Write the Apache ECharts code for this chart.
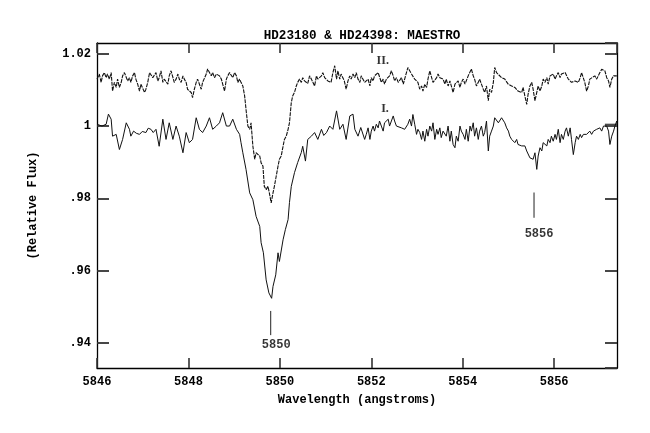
<!DOCTYPE html>
<html>
<head>
<meta charset="utf-8">
<script src="https://cdn.jsdelivr.net/npm/echarts@6/dist/echarts.min.js"></script>
<style>html,body{margin:0;padding:0;background:#fff}#c{width:650px;height:433px}</style>
</head>
<body>
<div id="c"></div>
<script>
// Spectrum I (solid): [wavelength, relative flux]
const spectrumI = [
[5846.00,1.0005],[5846.11,1.0000],[5846.20,1.0005],[5846.25,1.0033],[5846.31,1.0019],[5846.34,0.9972],[5846.42,0.9977],[5846.49,0.9935],[5846.56,0.9963],[5846.64,1.0009],[5846.71,0.9991],[5846.74,0.9972],[5846.80,0.9986],[5846.86,0.9980],[5846.93,0.9977],[5846.99,0.9985],
[5847.07,0.9982],[5847.12,0.9994],[5847.18,0.9991],[5847.23,0.9982],[5847.29,0.9991],[5847.36,0.9944],[5847.44,1.0019],[5847.51,0.9963],[5847.58,1.0009],[5847.66,0.9963],[5847.73,1.0000],[5847.80,0.9972],[5847.88,0.9926],[5847.95,0.9982],
[5848.02,0.9954],[5848.09,0.9963],[5848.17,1.0023],[5848.24,0.9991],[5848.31,0.9982],[5848.39,1.0000],[5848.46,1.0023],[5848.53,0.9991],[5848.61,1.0000],[5848.68,1.0009],[5848.75,1.0037],[5848.83,1.0000],[5848.90,1.0000],[5848.97,1.0019],
[5849.05,0.9991],[5849.12,0.9977],[5849.15,0.9954],[5849.19,0.9926],[5849.26,0.9880],[5849.34,0.9815],[5849.41,0.9796],[5849.48,0.9750],[5849.56,0.9722],[5849.59,0.9677],[5849.64,0.9649],[5849.70,0.9574],[5849.76,0.9538],[5849.82,0.9523],[5849.85,0.9556],[5849.91,0.9588],[5849.96,0.9649],[5849.99,0.9625],
[5850.03,0.9625],[5850.07,0.9685],[5850.12,0.9713],[5850.18,0.9741],[5850.21,0.9788],[5850.25,0.9833],[5850.32,0.9871],[5850.39,0.9899],[5850.47,0.9927],[5850.50,0.9944],[5850.56,0.9903],[5850.61,0.9963],[5850.69,0.9972],[5850.76,0.9982],[5850.83,0.9963],[5850.91,0.9991],[5850.96,0.9974],
[5851.02,0.9982],[5851.09,1.0000],[5851.16,0.9991],[5851.24,1.0042],[5851.31,0.9991],[5851.38,1.0005],[5851.45,0.9963],[5851.53,1.0028],[5851.60,1.0033],[5851.64,0.9991],[5851.71,0.9972],[5851.77,0.9996],
[5851.855,0.9963],[5851.89,0.9977],[5851.93,0.9995],[5851.97,0.9963],[5852.00,0.9986],[5852.04,1.0000],[5852.07,0.9986],[5852.11,1.0005],[5852.15,0.9995],[5852.18,1.0014],[5852.22,1.0000],[5852.26,0.9986],[5852.29,1.0009],[5852.33,1.0005],[5852.37,1.0019],[5852.40,1.0000],[5852.44,1.0014],[5852.48,1.0028],[5852.51,1.0014],[5852.55,1.0000],[5852.59,1.0005],[5852.66,0.9995],[5852.70,1.0000],[5852.73,0.9991],[5852.77,0.9995],[5852.80,1.0005],[5852.84,1.0019],[5852.88,1.0000],[5852.91,1.0032],[5852.95,1.0005],[5852.99,0.9977],
[5853.02,0.9991],[5853.06,0.9982],[5853.10,0.9963],[5853.13,0.9986],[5853.17,0.9958],[5853.21,0.9991],[5853.24,0.9972],[5853.28,1.0000],[5853.32,0.9986],[5853.35,1.0009],[5853.39,0.9963],[5853.43,0.9991],[5853.46,0.9977],[5853.50,0.9995],[5853.53,0.9968],[5853.57,0.9986],[5853.61,0.9991],[5853.64,0.9972],[5853.68,1.0000],[5853.72,0.9958],[5853.75,0.9986],[5853.79,0.9949],[5853.83,0.9940],[5853.86,0.9972],[5853.90,0.9958],[5853.94,1.0000],[5853.97,0.9986],
[5854.01,0.9977],[5854.05,0.9963],[5854.08,0.9991],[5854.12,0.9958],[5854.16,1.0000],[5854.19,0.9986],[5854.23,1.0009],[5854.26,0.9972],[5854.30,0.9995],[5854.34,0.9963],[5854.37,0.9986],[5854.41,1.0000],[5854.45,0.9972],[5854.48,0.9982],[5854.52,1.0014],[5854.56,0.9931],[5854.59,0.9972],[5854.63,0.9986],[5854.67,1.0000],[5854.70,1.0023],[5854.74,1.0028],[5854.78,1.0009],[5854.85,1.0023],[5854.92,1.0009],[5854.96,0.9995],
[5855.00,0.9986],[5855.03,0.9972],[5855.07,0.9963],[5855.10,0.9968],[5855.14,0.9954],[5855.18,0.9963],[5855.21,0.9949],[5855.25,0.9954],[5855.29,0.9945],[5855.32,0.9949],[5855.36,0.9945],[5855.40,0.9931],[5855.43,0.9926],[5855.47,0.9912],[5855.51,0.9917],[5855.54,0.9908],[5855.58,0.9926],[5855.62,0.9880],[5855.65,0.9917],[5855.69,0.9940],[5855.73,0.9931],[5855.76,0.9954],[5855.80,0.9958],[5855.84,0.9945],[5855.87,0.9963],[5855.91,0.9954],[5855.94,0.9972],[5855.98,0.9958],
[5856.02,0.9977],[5856.05,0.9963],[5856.09,0.9991],[5856.13,0.9954],[5856.16,0.9977],[5856.20,0.9963],[5856.24,0.9986],[5856.27,0.9995],[5856.31,0.9972],[5856.35,0.9995],[5856.38,0.9963],[5856.42,0.9921],[5856.46,0.9954],[5856.49,0.9972],[5856.53,0.9963],[5856.57,0.9977],[5856.60,0.9968],[5856.64,0.9977],[5856.67,0.9982],[5856.71,0.9977],[5856.75,0.9972],[5856.78,0.9986],[5856.82,0.9977],[5856.86,0.9986],[5856.89,0.9982],[5856.93,0.9991],[5856.97,0.9986],
[5857.00,0.9995],[5857.04,0.9986],[5857.08,1.0000],[5857.11,1.0005],[5857.15,1.0000],[5857.19,0.9986],[5857.22,0.9949],[5857.26,0.9972],[5857.30,0.9986],[5857.33,1.0000],[5857.37,1.0014],[5857.375,1.0005],[5857.11,1.0005]
];

// Spectrum II (dashed): [wavelength, relative flux]
const spectrumII = [
[5846.00,1.0130],[5846.05,1.0144],[5846.09,1.0121],[5846.12,1.0139],[5846.16,1.0148],[5846.20,1.0134],[5846.23,1.0144],[5846.27,1.0130],[5846.31,1.0148],[5846.34,1.0097],[5846.38,1.0121],[5846.42,1.0107],[5846.45,1.0130],[5846.49,1.0107],[5846.53,1.0121],[5846.56,1.0139],[5846.60,1.0148],[5846.64,1.0144],[5846.67,1.0125],[5846.71,1.0134],[5846.74,1.0121],[5846.78,1.0139],[5846.82,1.0148],[5846.85,1.0130],[5846.89,1.0116],[5846.93,1.0097],[5846.96,1.0116],
[5847.00,1.0111],[5847.04,1.0093],[5847.07,1.0102],[5847.11,1.0121],[5847.15,1.0148],[5847.18,1.0153],[5847.22,1.0134],[5847.26,1.0139],[5847.29,1.0148],[5847.33,1.0125],[5847.36,1.0134],[5847.40,1.0153],[5847.44,1.0121],[5847.47,1.0130],[5847.51,1.0134],[5847.55,1.0116],[5847.58,1.0139],[5847.62,1.0153],[5847.66,1.0148],[5847.69,1.0121],[5847.73,1.0130],[5847.77,1.0144],[5847.80,1.0130],[5847.84,1.0121],[5847.88,1.0139],[5847.91,1.0130],[5847.95,1.0121],[5847.98,1.0102],
[5848.02,1.0097],[5848.06,1.0093],[5848.09,1.0079],[5848.13,1.0102],[5848.17,1.0121],[5848.20,1.0130],[5848.24,1.0125],[5848.28,1.0102],[5848.31,1.0121],[5848.35,1.0116],[5848.39,1.0144],[5848.42,1.0158],[5848.46,1.0162],[5848.50,1.0139],[5848.53,1.0148],[5848.57,1.0134],[5848.61,1.0144],[5848.64,1.0139],[5848.68,1.0139],[5848.72,1.0130],[5848.75,1.0134],[5848.79,1.0097],[5848.83,1.0130],[5848.86,1.0139],[5848.90,1.0148],[5848.94,1.0153],[5848.97,1.0134],
[5849.01,1.0148],[5849.05,1.0139],[5849.08,1.0121],[5849.12,1.0130],[5849.15,1.0121],[5849.19,1.0111],[5849.23,1.0083],[5849.26,1.0046],[5849.30,1.0000],[5849.34,0.9991],[5849.37,1.0009],[5849.41,0.9944],[5849.45,0.9908],[5849.48,0.9926],[5849.52,0.9921],[5849.56,0.9917],[5849.59,0.9898],[5849.63,0.9889],[5849.66,0.9833],[5849.70,0.9824],[5849.74,0.9833],[5849.77,0.9815],[5849.81,0.9787],[5849.85,0.9815],[5849.88,0.9833],[5849.92,0.9861],[5849.96,0.9889],[5849.99,0.9908],
[5850.03,0.9917],[5850.07,0.9944],[5850.10,0.9963],[5850.14,0.9972],[5850.18,0.9991],[5850.21,1.0009],[5850.25,1.0065],[5850.28,1.0083],[5850.32,1.0093],[5850.36,1.0111],[5850.39,1.0121],[5850.43,1.0130],[5850.47,1.0121],[5850.50,1.0134],[5850.54,1.0125],[5850.58,1.0130],[5850.61,1.0118],[5850.65,1.0139],[5850.69,1.0130],[5850.72,1.0125],[5850.76,1.0111],[5850.80,1.0139],[5850.83,1.0130],[5850.87,1.0125],[5850.91,1.0139],[5850.94,1.0148],[5850.98,1.0134],
[5851.02,1.0139],[5851.05,1.0125],[5851.09,1.0130],[5851.12,1.0121],[5851.16,1.0148],[5851.20,1.0167],[5851.24,1.0130],[5851.27,1.0153],[5851.31,1.0130],[5851.34,1.0144],[5851.38,1.0139],[5851.41,1.0125],[5851.45,1.0102],[5851.49,1.0125],[5851.53,1.0139],[5851.56,1.0130],[5851.60,1.0144],[5851.64,1.0134],[5851.67,1.0148],[5851.71,1.0130],[5851.75,1.0121],[5851.78,1.0139],[5851.82,1.0134],
[5851.855,1.0121],[5851.93,1.0130],[5851.97,1.0111],[5852.00,1.0134],[5852.04,1.0125],[5852.07,1.0139],[5852.15,1.0148],[5852.22,1.0121],[5852.26,1.0130],[5852.29,1.0116],[5852.33,1.0130],[5852.40,1.0139],[5852.44,1.0153],[5852.48,1.0139],[5852.51,1.0125],[5852.55,1.0134],[5852.59,1.0121],[5852.66,1.0134],[5852.70,1.0116],[5852.73,1.0130],[5852.80,1.0162],[5852.88,1.0144],[5852.91,1.0148],[5852.95,1.0130],[5852.99,1.0125],
[5853.02,1.0121],[5853.06,1.0102],[5853.10,1.0111],[5853.13,1.0097],[5853.17,1.0116],[5853.21,1.0107],[5853.24,1.0130],[5853.28,1.0153],[5853.32,1.0134],[5853.35,1.0121],[5853.39,1.0125],[5853.43,1.0134],[5853.46,1.0144],[5853.50,1.0134],[5853.53,1.0139],[5853.57,1.0130],[5853.61,1.0116],[5853.64,1.0130],[5853.68,1.0111],[5853.72,1.0125],[5853.75,1.0121],[5853.79,1.0093],[5853.83,1.0116],[5853.86,1.0111],[5853.90,1.0125],[5853.94,1.0107],[5853.97,1.0121],
[5854.01,1.0130],[5854.05,1.0116],[5854.12,1.0139],[5854.16,1.0144],[5854.19,1.0158],[5854.23,1.0139],[5854.26,1.0130],[5854.30,1.0111],[5854.34,1.0121],[5854.37,1.0130],[5854.41,1.0116],[5854.45,1.0102],[5854.48,1.0093],[5854.52,1.0111],[5854.56,1.0070],[5854.59,1.0102],[5854.63,1.0093],[5854.67,1.0121],[5854.70,1.0162],[5854.74,1.0148],[5854.78,1.0144],[5854.85,1.0134],[5854.92,1.0130],[5854.995,1.0116],
[5855.07,1.0111],[5855.14,1.0107],[5855.21,1.0097],[5855.25,1.0102],[5855.29,1.0093],[5855.32,1.0107],[5855.36,1.0083],[5855.40,1.0060],[5855.43,1.0088],[5855.47,1.0111],[5855.51,1.0121],[5855.54,1.0102],[5855.58,1.0070],[5855.62,1.0093],[5855.65,1.0111],[5855.69,1.0097],[5855.73,1.0111],[5855.76,1.0130],[5855.80,1.0121],[5855.84,1.0134],[5855.87,1.0116],[5855.91,1.0139],[5855.94,1.0134],[5855.98,1.0144],
[5856.02,1.0130],[5856.05,1.0139],[5856.09,1.0148],[5856.13,1.0134],[5856.16,1.0144],[5856.20,1.0139],[5856.24,1.0148],[5856.27,1.0153],[5856.31,1.0130],[5856.35,1.0134],[5856.38,1.0121],[5856.42,1.0116],[5856.46,1.0125],[5856.53,1.0121],[5856.57,1.0134],[5856.60,1.0148],[5856.64,1.0153],[5856.67,1.0121],[5856.71,1.0097],[5856.75,1.0111],[5856.78,1.0130],[5856.82,1.0134],[5856.89,1.0139],[5856.93,1.0130],[5856.97,1.0134],
[5857.00,1.0148],[5857.04,1.0157],[5857.08,1.0162],[5857.11,1.0153],[5857.15,1.0134],[5857.19,1.0125],[5857.22,1.0107],[5857.26,1.0130],[5857.30,1.0139],[5857.33,1.0144],[5857.37,1.0139]
];

// Axis ranges / ticks
const xMin = 5846, xMax = 5857.375, xStep = 2;
const yMin = 0.933, yMax = 1.023;

// Line identification markers
const markerWl = [5849.80, 5855.56];
const markerTop = [0.9488, 0.9816];
const markerBottom = [0.9421, 0.9746];
const markerText = ['5850', '5856'];
const markerTextWl = [5849.92, 5855.67];
const markerTextFlux = [0.9394, 0.9702];

// Spectrum labels
const specLabels = ['II.', 'I.'];
const specLabelWl = [5852.25, 5852.30];
const specLabelFlux = [1.0181, 1.0048];

const MONO = '"Liberation Mono", "DejaVu Sans Mono", monospace';
const SERIF = '"Liberation Serif", "DejaVu Serif", serif';
const txt = {fontFamily: MONO, fontWeight: 'bold', fontSize: 12, color: '#000'};

const chart = echarts.init(document.getElementById('c'), null, {renderer: 'canvas'});
const yFmt = v => { const s = String(+(+v).toFixed(2)); return s.replace(/^0\./, '.'); };
const xFmt = v => String(Math.round(v));

const markerSeries = markerWl.map((w, i) => ({
  type: 'line', xAxisIndex: 0, yAxisIndex: 0, symbol: 'none', silent: true,
  data: [[w, markerTop[i]], [w, markerBottom[i]]],
  lineStyle: {color: '#222', width: 1}
}));

const tickStyle = {color: '#333', width: 1.6};

chart.setOption({
  animation: false,
  backgroundColor: '#fff',
  title: {
    text: 'HD23180 & HD24398: MAESTRO',
    left: 357, top: 24, textAlign: 'center',
    textStyle: Object.assign({}, txt, {fontSize: 12.6})
  },
  grid: {left: 97, right: 33, top: 43, bottom: 65, containLabel: false},
  xAxis: [{
    type: 'value', min: xMin, max: xMax, interval: xStep, position: 'bottom',
    name: 'Wavelength (angstroms)', nameLocation: 'middle', nameGap: 26,
    nameTextStyle: txt,
    axisLine: {show: true, lineStyle: {color: '#000', width: 1.3}},
    axisTick: {show: true, inside: true, length: 10, lineStyle: tickStyle},
    axisLabel: Object.assign({margin: 8, showMaxLabel: false, formatter: xFmt}, txt),
    splitLine: {show: false}
  }, {
    type: 'value', min: xMin, max: xMax, interval: xStep, position: 'top',
    axisLine: {show: true, lineStyle: {color: '#000', width: 1.3}},
    axisTick: {show: true, inside: true, length: 10, lineStyle: tickStyle},
    axisLabel: {show: false}, splitLine: {show: false}
  }],
  yAxis: [{
    type: 'value', min: yMin, max: yMax, splitNumber: 5, position: 'left',
    name: '(Relative Flux)', nameLocation: 'middle', nameGap: 58, nameRotate: 90,
    nameTextStyle: txt,
    axisLine: {show: true, lineStyle: {color: '#000', width: 1.3}},
    axisTick: {show: true, inside: true, length: 12, lineStyle: {color: '#333', width: 1.8}},
    axisLabel: Object.assign({margin: 6, showMinLabel: false, showMaxLabel: false, formatter: yFmt}, txt),
    splitLine: {show: false}
  }, {
    type: 'value', min: yMin, max: yMax, splitNumber: 5, position: 'right',
    axisLine: {show: true, lineStyle: {color: '#000', width: 1.3}},
    axisTick: {show: true, inside: true, length: 12, lineStyle: {color: '#333', width: 1.8}},
    axisLabel: {show: false}, splitLine: {show: false}
  }],
  series: [{
    name: 'II', type: 'line', symbol: 'none', silent: true,
    data: spectrumII,
    lineStyle: {color: '#111', width: 1.1, type: [4, 1]}
  }, {
    name: 'I', type: 'line', symbol: 'none', silent: true,
    data: spectrumI,
    lineStyle: {color: '#111', width: 1}
  }].concat(markerSeries).concat([{
    type: 'scatter', symbolSize: 1, silent: true,
    itemStyle: {color: 'rgba(0,0,0,0)'},
    data: markerText.map((t, i) => [markerTextWl[i], markerTextFlux[i], t]),
    label: Object.assign({show: true, position: 'inside', formatter: p => p.value[2]}, txt)
  }, {
    type: 'scatter', symbolSize: 1, silent: true,
    itemStyle: {color: 'rgba(0,0,0,0)'},
    data: specLabels.map((t, i) => [specLabelWl[i], specLabelFlux[i], t]),
    label: {show: true, position: 'inside', formatter: p => p.value[2],
            fontFamily: SERIF, fontWeight: 'bold', fontSize: 12, color: '#000'}
  }])
});
</script>
</body>
</html>
